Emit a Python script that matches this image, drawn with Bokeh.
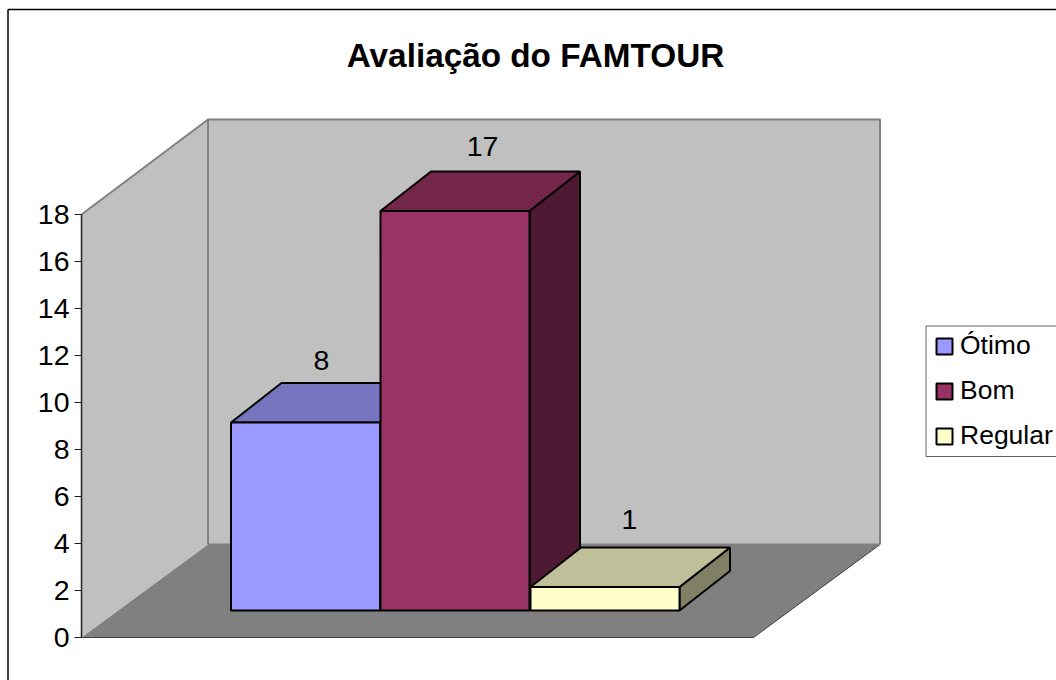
from bokeh.plotting import figure
from bokeh.models import Range1d, FixedTicker, Legend, LegendItem
from bokeh.core.properties import value
from bokeh.embed import file_html
from bokeh.resources import INLINE

# ---- data
title_text = "Avaliação do FAMTOUR"
categories = ["Ótimo", "Bom", "Regular"]
values = [8, 17, 1]
y_ticks = [0, 2, 4, 6, 8, 10, 12, 14, 16, 18]

# ---- styles
front_colors = ["#9999ff", "#993366", "#ffffcc"]
top_colors = ["#7575bf", "#732649", "#bfbf99"]
side_colors = ["#59598f", "#4d1933", "#808066"]
FONT = "Liberation Sans"

# ---- geometry (x in page pixels, y in value units)
PX = 23.5                 # pixels per value unit
FLOOR_L, FLOOR_R = 81, 753
FLOOR_DX, FLOOR_DY = 126.5, 93 / PX
WALL_TOP = 18
BACK_EXTRA = 2 / PX       # the back wall reaches slightly higher than the axis top
BAR_LEFT = [230.5, 380, 530]
BAR_W = 149
BAR_BASE = 27 / PX
BAR_DX, BAR_DY = 50.5, 39.5 / PX
LABEL_X = [321, 482, 629]
LABEL_UP = [23, 25, 28]


def y_at(page_y):
    return (637 - page_y) / PX


p = figure(width=1056, height=680, output_backend="svg", toolbar_location=None,
           x_range=Range1d(0, 1056), y_range=Range1d(y_at(680), y_at(0)),
           x_axis_type=None, min_border=0, outline_line_color=None,
           background_fill_color="white", border_fill_color="white")
p.ygrid.visible = False

BACK_TOP = WALL_TOP + FLOOR_DY + BACK_EXTRA

# chart border
p.line([7.5, 7.5], [y_at(680), y_at(9)], line_color="black", line_width=1.5)
p.line([7.5, 1056], [y_at(9), y_at(9)], line_color="black", line_width=1.5)

# walls
p.patch([FLOOR_L, FLOOR_L + FLOOR_DX, FLOOR_L + FLOOR_DX, FLOOR_L],
        [WALL_TOP, BACK_TOP, FLOOR_DY, 0],
        fill_color="#c0c0c0", line_color=None)
p.patch([FLOOR_L + FLOOR_DX, FLOOR_R + FLOOR_DX, FLOOR_R + FLOOR_DX, FLOOR_L + FLOOR_DX],
        [BACK_TOP, BACK_TOP, FLOOR_DY, FLOOR_DY],
        fill_color="#c0c0c0", line_color=None)
# floor
p.patch([FLOOR_L, FLOOR_L + FLOOR_DX, FLOOR_R + FLOOR_DX, FLOOR_R],
        [0, FLOOR_DY, FLOOR_DY, 0], fill_color="#808080", line_color=None)
p.line([FLOOR_L, FLOOR_R, FLOOR_R + FLOOR_DX], [0, 0, FLOOR_DY],
       line_color="#404040", line_width=1)
# wall edges
p.line([FLOOR_L, FLOOR_L + FLOOR_DX, FLOOR_R + FLOOR_DX, FLOOR_R + FLOOR_DX],
       [WALL_TOP, BACK_TOP, BACK_TOP, FLOOR_DY],
       line_color="#808080", line_width=2)
p.line([FLOOR_L + FLOOR_DX, FLOOR_L + FLOOR_DX],
       [BACK_TOP, FLOOR_DY], line_color="#808080", line_width=2)
p.line([FLOOR_L + FLOOR_DX, FLOOR_R + FLOOR_DX], [FLOOR_DY, FLOOR_DY],
       line_color="#808080", line_width=2)

# legend box
p.quad(left=[925.5], right=[1070], bottom=[y_at(456)], top=[y_at(325.5)],
       fill_color="white", line_color="#606060", line_width=1)

# bars
legend_items = []
for i, (name, v) in enumerate(zip(categories, values)):
    x0, x1 = BAR_LEFT[i], BAR_LEFT[i] + BAR_W
    b0, b1 = BAR_BASE, BAR_BASE + v
    p.patch([x1, x1 + BAR_DX, x1 + BAR_DX, x1],
            [b0, b0 + BAR_DY, b1 + BAR_DY, b1],
            fill_color=side_colors[i], line_color="black", line_width=2)
    p.patch([x0, x0 + BAR_DX, x1 + BAR_DX, x1],
            [b1, b1 + BAR_DY, b1 + BAR_DY, b1],
            fill_color=top_colors[i], line_color="black", line_width=2)
    r = p.quad(left=[x0], right=[x1], bottom=[b0], top=[b1],
               fill_color=front_colors[i], line_color="black", line_width=2)
    legend_items.append(LegendItem(label=name, renderers=[r]))

# data labels
for i, v in enumerate(values):
    p.text([LABEL_X[i]], [BAR_BASE + v + BAR_DY + LABEL_UP[i] / PX], text=[str(v)],
           text_font=value(FONT), text_font_size="28.5px", text_color="black",
           text_align="center", text_baseline="middle")

# title
p.text([535], [y_at(55)], text=[title_text], text_font=value(FONT),
       text_font_size="33.3px", text_font_style="bold", text_color="black",
       text_align="center", text_baseline="middle")

# value axis
ax = p.yaxis[0]
ax.fixed_location = FLOOR_L
ax.bounds = (0, 18)
ax.ticker = FixedTicker(ticks=y_ticks)
ax.major_tick_in = 0
ax.major_tick_out = 7
ax.minor_tick_line_color = None
ax.axis_line_color = "#202020"
ax.axis_line_width = 1.5
ax.major_tick_line_color = "#202020"
ax.major_label_text_font = FONT
ax.major_label_text_font_size = "28.5px"
ax.major_label_text_color = "black"
ax.major_label_standoff = 5

# legend
lg = Legend(items=legend_items, location=(926, 221), orientation="vertical",
            glyph_width=20, glyph_height=20, label_width=20, label_height=20,
            label_standoff=6, spacing=14, padding=8, margin=0,
            background_fill_alpha=0, border_line_alpha=0,
            label_text_font=FONT, label_text_font_size="26.5px", label_text_color="black")
p.add_layout(lg, "center")

open("out.html", "w").write(file_html(p, INLINE))
